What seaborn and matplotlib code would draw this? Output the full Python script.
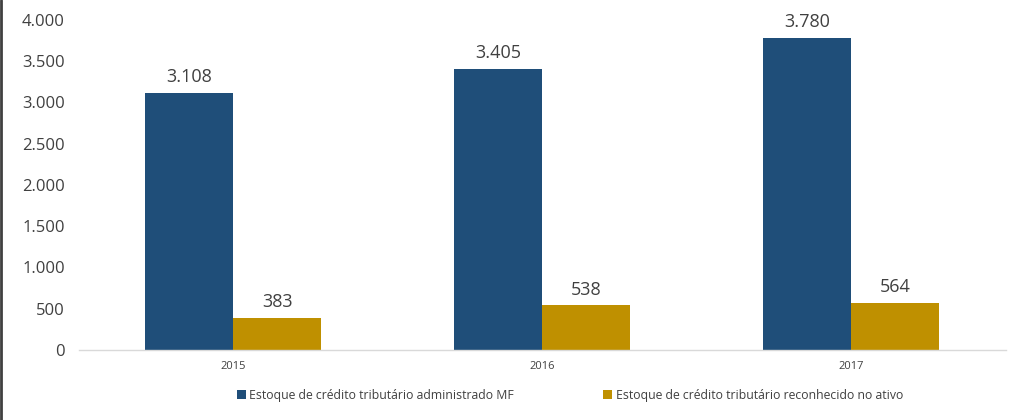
import matplotlib
matplotlib.use("Agg")
import matplotlib.pyplot as plt
import seaborn as sns
import pandas as pd
from matplotlib.lines import Line2D
from matplotlib.ticker import FuncFormatter

years = ["2015", "2016", "2017"]
series_names = ["Estoque de crédito tributário administrado MF",
                "Estoque de crédito tributário reconhecido no ativo"]
administrado = [3108, 3405, 3780]
reconhecido = [383, 538, 564]
colors = ["#1F4E79", "#BF9000"]

df = pd.DataFrame({
    "Ano": years * 2,
    "Serie": [series_names[0]] * 3 + [series_names[1]] * 3,
    "Valor": administrado + reconhecido,
})

sns.set_style("white")
plt.rcParams['font.family'] = ['Open Sans', 'DejaVu Sans']

fig = plt.figure(figsize=(10.23, 4.2), dpi=100)
ax = fig.add_axes([0.077, 0.167, 0.906, 0.786])

sns.barplot(data=df, x="Ano", y="Valor", hue="Serie", palette=colors,
            width=0.57, saturation=1, ax=ax, errorbar=None, legend=True,
            linewidth=0, edgecolor="none")

ax.set_ylim(0, 4000)
ax.set_yticks(range(0, 4001, 500))
ax.yaxis.set_major_formatter(FuncFormatter(lambda v, p: f"{int(v):,}".replace(",", ".")))
ax.tick_params(axis="y", labelsize=12, labelcolor="#404040", length=0, pad=10)
ax.tick_params(axis="x", labelsize=8, labelcolor="#404040", length=0, pad=8)
ax.set_xlabel("")
ax.set_ylabel("")
for s in ["top", "right", "left"]:
    ax.spines[s].set_visible(False)
ax.spines["bottom"].set_color("#D9D9D9")
ax.spines["bottom"].set_linewidth(1)

for cont in ax.containers:
    labels = [f"{int(v):,}".replace(",", ".") for v in cont.datavalues]
    ax.bar_label(cont, labels=labels, padding=5, fontsize=13, color="#404040")

ax.legend(loc="upper center", bbox_to_anchor=(0.530, -0.085), ncol=2, frameon=False,
          fontsize=8.8, handlelength=0.7, handleheight=0.7, handletextpad=0.3,
          columnspacing=7.3, labelcolor="#404040")

fig.add_artist(Line2D([0.001, 0.001], [0, 1], transform=fig.transFigure,
                      color="#404040", linewidth=2))

fig.savefig("out.png", dpi=100)
